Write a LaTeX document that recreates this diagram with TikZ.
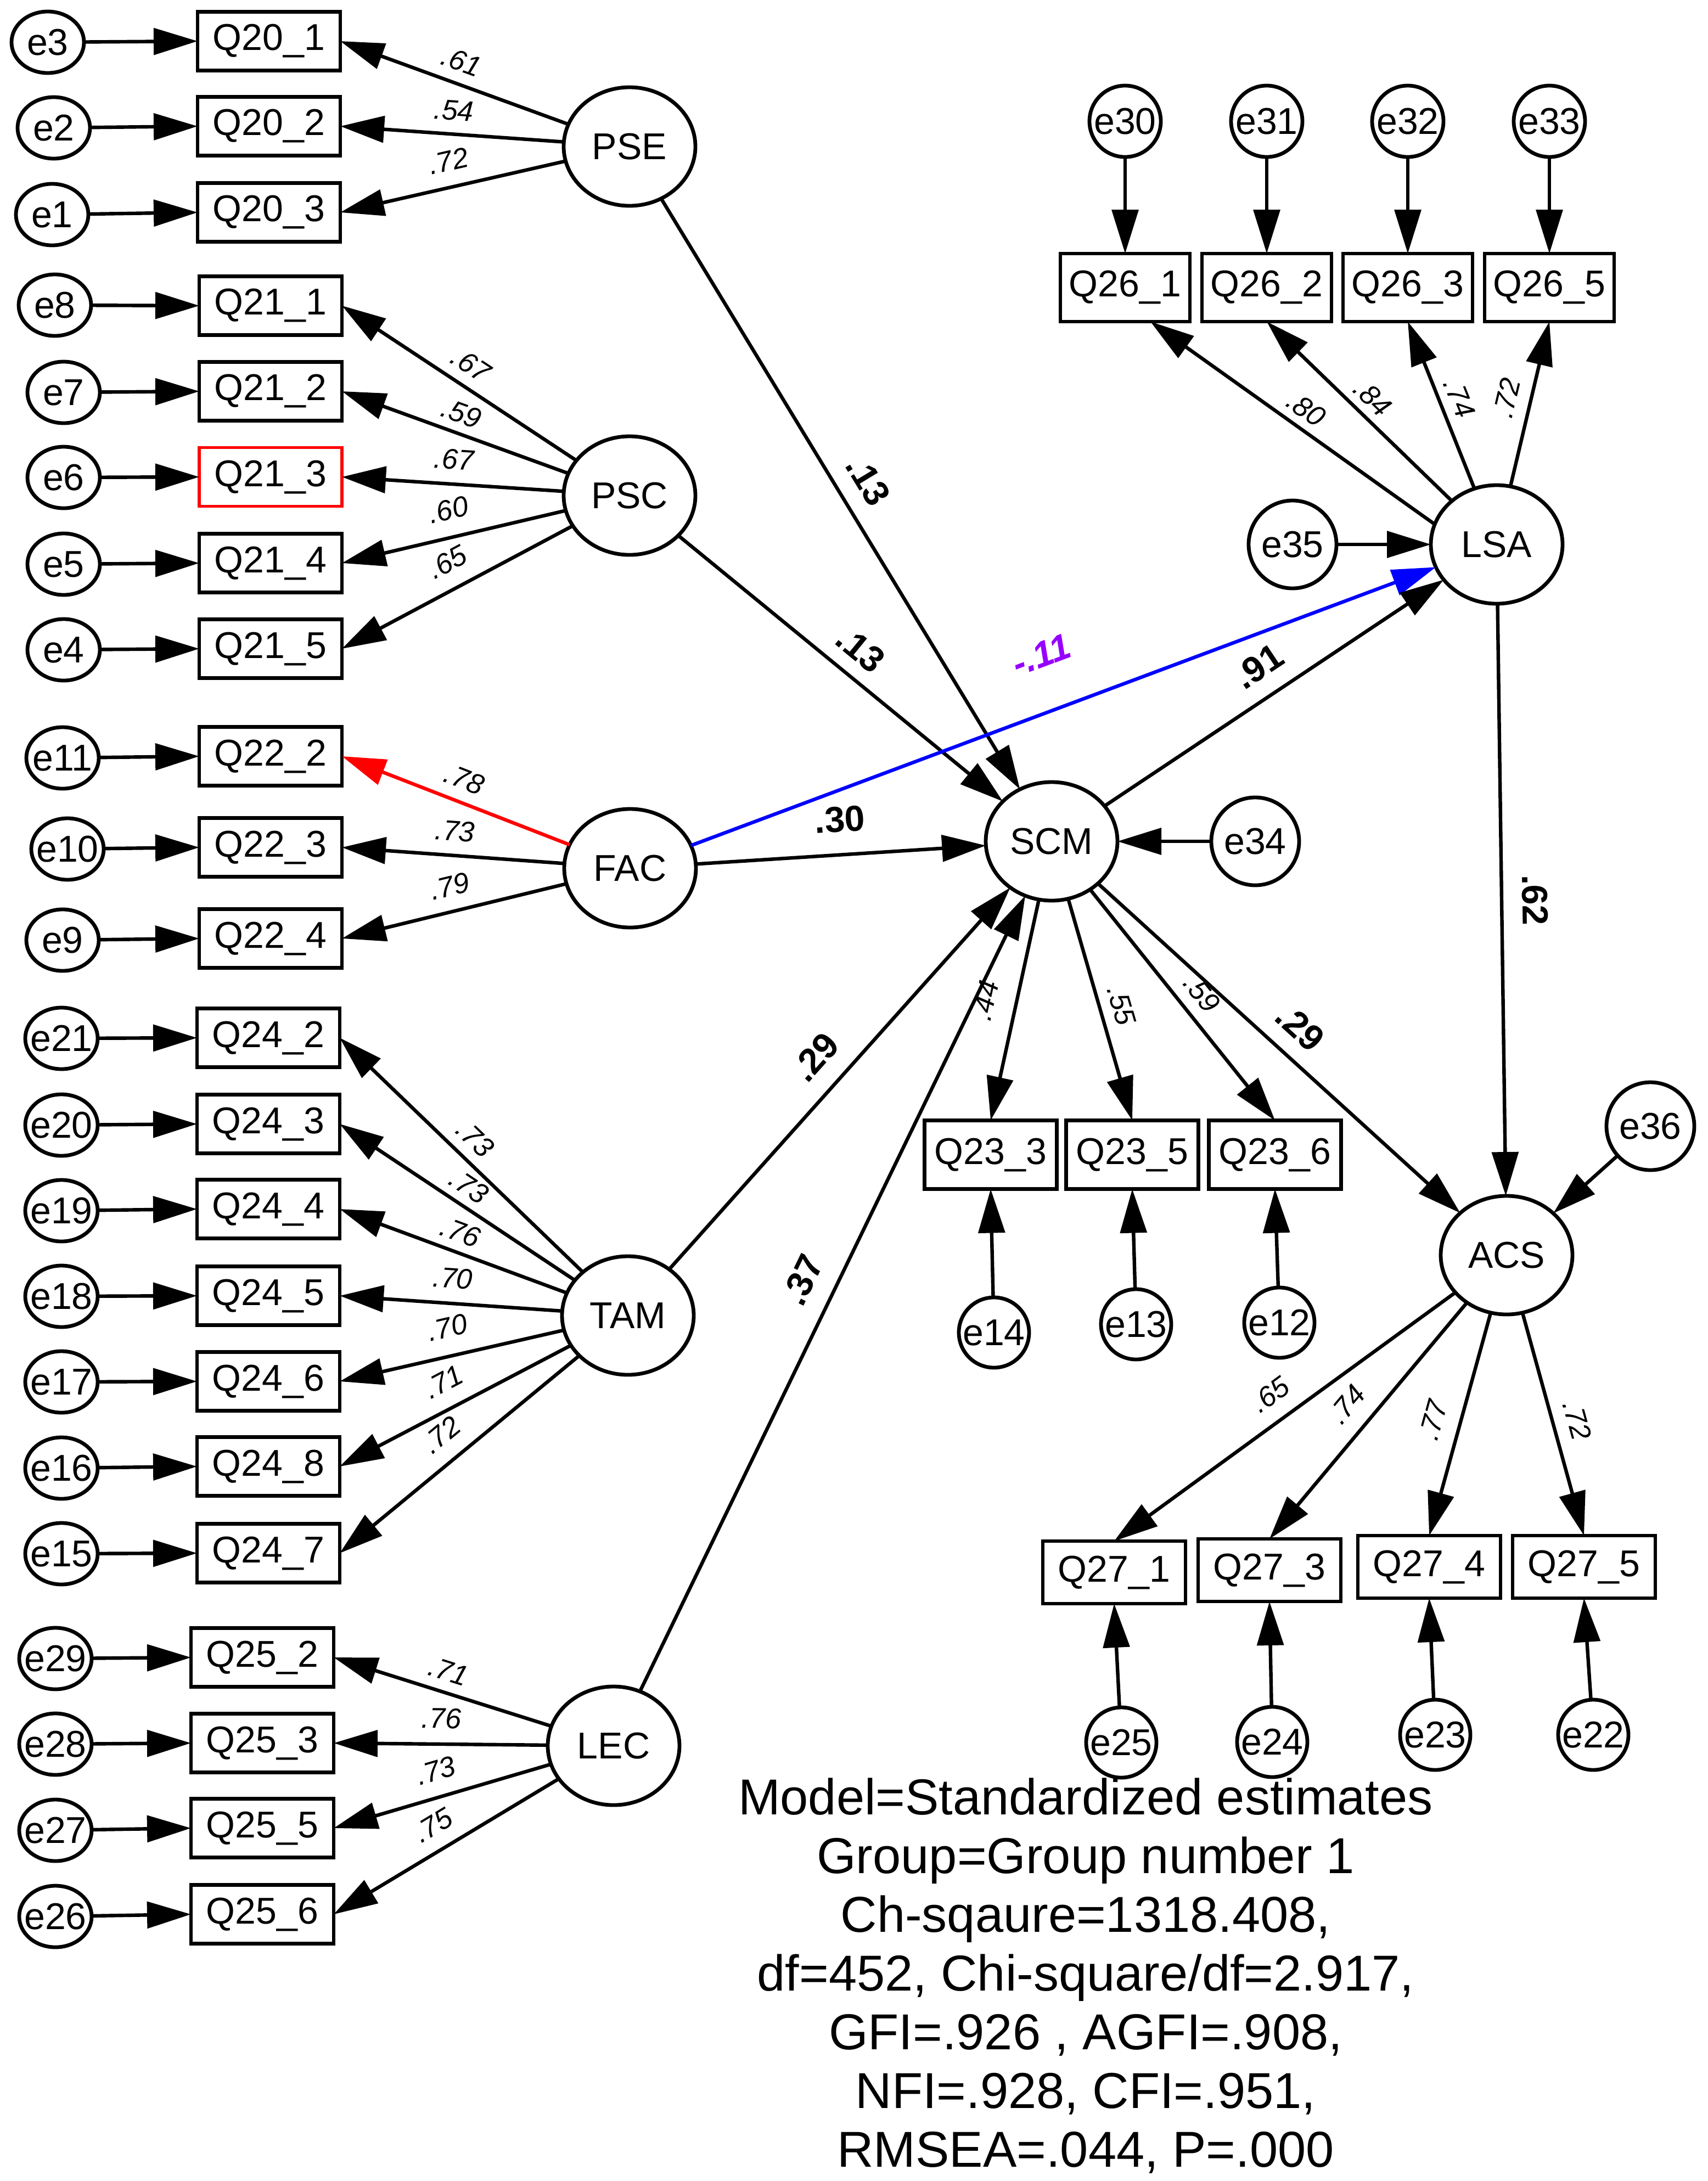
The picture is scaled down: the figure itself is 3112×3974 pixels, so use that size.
\documentclass[tikz,border=0pt]{standalone}
\usepackage{fontspec}
\setmainfont{Liberation Sans}
\usetikzlibrary{arrows.meta,shapes.geometric,calc}
\definecolor{purp}{RGB}{150,0,255}
\newcommand{\mbz}[1]{\makebox[0pt]{#1}}
\begin{document}
\begin{tikzpicture}[x=0.25pt,y=-0.25pt,
  every node/.style={inner sep=0pt, outer sep=0pt},
  txt/.style={font=\fontsize{17}{20}\selectfont},
  lat/.style={ellipse, draw, line width=1.7pt, minimum width=60pt, minimum height=54pt, txt},
  err/.style={ellipse, draw, line width=1.7pt, minimum width=33pt, minimum height=28pt, txt},
  errc/.style={circle, draw, line width=1.7pt, minimum size=32.5pt, txt},
  errb/.style={circle, draw, line width=1.7pt, minimum size=40pt, txt},
  obs/.style={rectangle, draw, line width=1.7pt, minimum width=65pt, minimum height=26.75pt, txt},
  obst/.style={rectangle, draw, line width=1.7pt, minimum width=59pt, minimum height=31pt, txt},
  obsm/.style={rectangle, draw, line width=1.7pt, minimum width=60.25pt, minimum height=31.25pt, txt},
  obsb/.style={rectangle, draw, line width=1.7pt, minimum width=65pt, minimum height=28.5pt, txt},
  arr/.style={-{Triangle[length=20pt,width=12pt]}, line width=1.6pt},
  ld/.style={font=\fontsize{13}{15}\selectfont\itshape},
  pth/.style={font=\fontsize{16.5}{19}\selectfont\bfseries},
  fit/.style={font=\fontsize{23}{27}\selectfont, anchor=base}
]
\useasboundingbox (0,0) rectangle (3112,3974);

% ---------- latent variables ----------
\node[lat] (PSE) at (1147,267) {\mbz{PSE}};
\node[lat] (PSC) at (1147,903) {\mbz{PSC}};
\node[lat] (FAC) at (1148,1582) {\mbz{FAC}};
\node[lat] (TAM) at (1144,2397) {\mbz{TAM}};
\node[lat] (LEC) at (1118,3181) {\mbz{LEC}};
\node[lat] (SCM) at (1916,1533) {\mbz{SCM}};
\node[lat] (LSA) at (2727,992) {\mbz{LSA}};
\node[lat] (ACS) at (2745,2287) {\mbz{ACS}};

% ---------- left observed ----------
\node[obs] (q201) at (490,75) {Q20\_1};
\node[obs] (q202) at (490,230) {Q20\_2};
\node[obs] (q203) at (490,387) {Q20\_3};
\node[obs] (q211) at (493,557) {Q21\_1};
\node[obs] (q212) at (493,713) {Q21\_2};
\node[obs, draw=red, line width=1.3pt] (q213) at (493,869) {Q21\_3};
\node[obs] (q214) at (493,1026) {Q21\_4};
\node[obs] (q215) at (493,1182) {Q21\_5};
\node[obs] (q222) at (493,1378) {Q22\_2};
\node[obs] (q223) at (493,1544) {Q22\_3};
\node[obs] (q224) at (493,1710) {Q22\_4};
\node[obs] (q242) at (489,1891) {Q24\_2};
\node[obs] (q243) at (489,2048) {Q24\_3};
\node[obs] (q244) at (489,2203) {Q24\_4};
\node[obs] (q245) at (489,2361) {Q24\_5};
\node[obs] (q246) at (489,2517) {Q24\_6};
\node[obs] (q248) at (489,2672) {Q24\_8};
\node[obs] (q247) at (489,2830) {Q24\_7};
\node[obs] (q252) at (478,3020) {Q25\_2};
\node[obs] (q253) at (478,3176) {Q25\_3};
\node[obs] (q255) at (478,3331) {Q25\_5};
\node[obs] (q256) at (478,3488) {Q25\_6};

% ---------- left errors ----------
\node[err] (e3) at (87,77) {\mbz{e3}};
\node[err] (e2) at (98,233) {\mbz{e2}};
\node[err] (e1) at (95,391) {\mbz{e1}};
\node[err] (e8) at (100,556) {\mbz{e8}};
\node[err] (e7) at (116,715) {\mbz{e7}};
\node[err] (e6) at (116,870) {\mbz{e6}};
\node[err] (e5) at (116,1028) {\mbz{e5}};
\node[err] (e4) at (116,1184) {\mbz{e4}};
\node[err] (e11) at (114,1381) {\mbz{e11}};
\node[err] (e10) at (123,1547) {\mbz{e10}};
\node[err] (e9) at (114,1713) {\mbz{e9}};
\node[err] (e21) at (112,1892) {\mbz{e21}};
\node[err] (e20) at (112,2050) {\mbz{e20}};
\node[err] (e19) at (112,2206) {\mbz{e19}};
\node[err] (e18) at (112,2362) {\mbz{e18}};
\node[err] (e17) at (112,2518) {\mbz{e17}};
\node[err] (e16) at (112,2675) {\mbz{e16}};
\node[err] (e15) at (112,2831) {\mbz{e15}};
\node[err] (e29) at (101,3022) {\mbz{e29}};
\node[err] (e28) at (101,3178) {\mbz{e28}};
\node[err] (e27) at (101,3335) {\mbz{e27}};
\node[err] (e26) at (101,3492) {\mbz{e26}};

% ---------- right side ----------
\node[obst] (q261) at (2050,524) {Q26\_1};
\node[obst] (q262) at (2308,524) {Q26\_2};
\node[obst] (q263) at (2565,524) {Q26\_3};
\node[obst] (q265) at (2823,524) {Q26\_5};
\node[errc] (e30) at (2050,221) {\mbz{e30}};
\node[errc] (e31) at (2308,221) {\mbz{e31}};
\node[errc] (e32) at (2565,221) {\mbz{e32}};
\node[errc] (e33) at (2823,221) {\mbz{e33}};
\node[errb] (e35) at (2355,992) {\mbz{e35}};
\node[errb] (e34) at (2287,1533) {\mbz{e34}};
\node[errb] (e36) at (3007,2052) {\mbz{e36}};

\node[obsm] (q233) at (1805,2104) {Q23\_3};
\node[obsm] (q235) at (2063,2104) {Q23\_5};
\node[obsm] (q236) at (2323,2104) {Q23\_6};
\node[errc, minimum size=32pt] (e14) at (1811,2428) {\mbz{e14}};
\node[errc, minimum size=32pt] (e13) at (2070,2413) {\mbz{e13}};
\node[errc, minimum size=32pt] (e12) at (2331,2410) {\mbz{e12}};

\node[obsb] (q271) at (2030,2865) {Q27\_1};
\node[obsb] (q273) at (2313,2861) {Q27\_3};
\node[obsb] (q274) at (2604,2855) {Q27\_4};
\node[obsb] (q275) at (2886,2855) {Q27\_5};
\node[errc, minimum size=32pt] (e25) at (2043,3175) {\mbz{e25}};
\node[errc, minimum size=32pt] (e24) at (2318,3174) {\mbz{e24}};
\node[errc, minimum size=32pt] (e23) at (2615,3161) {\mbz{e23}};
\node[errc, minimum size=32pt] (e22) at (2903,3161) {\mbz{e22}};

% ---------- error arrows (left) ----------
\foreach \e/\q in {e3/q201,e2/q202,e1/q203,e8/q211,e7/q212,e6/q213,e5/q214,e4/q215,
  e11/q222,e10/q223,e9/q224,e21/q242,e20/q243,e19/q244,e18/q245,e17/q246,e16/q248,e15/q247,
  e29/q252,e28/q253,e27/q255,e26/q256}
  \draw[arr] (\e) -- (\q.west);

% ---------- loadings (left) ----------
\foreach \l/\q in {PSE/q201,PSE/q202,PSE/q203,PSC/q211,PSC/q212,PSC/q213,PSC/q214,PSC/q215,
  FAC/q223,FAC/q224,TAM/q242,TAM/q243,TAM/q244,TAM/q245,TAM/q246,TAM/q248,TAM/q247,
  LEC/q252,LEC/q253,LEC/q255,LEC/q256}
  \draw[arr] (\l) -- (\q.east);
\draw[arr, red] (FAC) -- (q222.east);

% ---------- right measurement ----------
\draw[arr] (LSA.162) -- ($(q261.south)+(46,0)$);
\draw[arr] (LSA) -- (q262.south);
\draw[arr] (LSA) -- (q263.south);
\draw[arr] (LSA) -- (q265.south);
\foreach \e/\q in {e30/q261,e31/q262,e32/q263,e33/q265}
  \draw[arr] (\e) -- (\q.north);
\foreach \q in {q233,q235,q236} \draw[arr] (SCM) -- (\q.north);
\foreach \e/\q in {e14/q233,e13/q235,e12/q236} \draw[arr] (\e) -- (\q.south);
\foreach \q in {q271,q273,q274,q275} \draw[arr] (ACS) -- (\q.north);
\foreach \e/\q in {e25/q271,e24/q273,e23/q274,e22/q275} \draw[arr] (\e) -- (\q.south);

% ---------- structural ----------
\draw[arr] (PSE) -- (SCM);
\draw[arr] (PSC) -- (SCM);
\draw[arr] (FAC) -- (SCM);
\draw[arr] (TAM) -- (SCM);
\draw[arr] (LEC) -- (SCM);
\draw[arr, blue] (FAC) -- (LSA);
\draw[arr] (SCM) -- (LSA);
\draw[arr] (LSA) -- (ACS);
\draw[arr] (SCM) -- (ACS);
\draw[arr] (e35) -- (LSA);
\draw[arr] (e34) -- (SCM);
\draw[arr] (e36) -- (ACS);

% ---------- loading labels ----------
\node[ld, rotate=-20] (l1) at (841,112) {.61};
\node[ld, rotate=-4] (l2) at (827,201) {.54};
\node[ld, rotate=12.8] (l3) at (817,293) {.72};
\node[ld, rotate=-33.5] (l4) at (858,665) {.67};
\node[ld, rotate=-20] (l5) at (841,753) {.59};
\node[ld, rotate=-3.7] (l6) at (827,837) {.67};
\node[ld, rotate=13.2] (l7) at (817,929) {.60};
\node[ld, rotate=28.1] (l8) at (815,1024) {.65};
\node[ld, rotate=-21.3] (l9) at (846,1420) {.78};
\node[ld, rotate=-4.1] (l10) at (829,1514) {.73};
\node[ld, rotate=13.7] (l11) at (819,1615) {.79};
\node[ld, rotate=-44] (l12) at (866,2075) {.73};
\node[ld, rotate=-33.7] (l13) at (854,2162) {.73};
\node[ld, rotate=-20.3] (l14) at (839,2245) {.76};
\node[ld, rotate=-3.9] (l15) at (825,2329) {.70};
\node[ld, rotate=12.9] (l16) at (815,2419) {.70};
\node[ld, rotate=27.7] (l17) at (808,2518) {.71};
\node[ld, rotate=39.6] (l18) at (804,2614) {.72};
\node[ld, rotate=-17.6] (l19) at (817,3045) {.71};
\node[ld, rotate=-0.6] (l20) at (804,3131) {.76};
\node[ld, rotate=16.4] (l21) at (794,3226) {.73};
\node[ld, rotate=31.1] (l22) at (789,3326) {.75};
\node[ld, rotate=-35.3] (l23) at (2380,745) {.80};
\node[ld, rotate=-44.1] (l24) at (2501,725) {.84};
\node[ld, rotate=-68.2] (l25) at (2659,725) {.74};
\node[ld, rotate=76.7] (l26) at (2745,725) {.72};
\node[ld, rotate=77.7] (l27) at (1795,1823) {.44};
\node[ld, rotate=-73.9] (l28) at (2043,1832) {.55};
\node[ld, rotate=-51.4] (l29) at (2190,1810) {.59};
\node[ld, rotate=36.1] (l30) at (2314,2541) {.65};
\node[ld, rotate=50.1] (l31) at (2454,2559) {.74};
\node[ld, rotate=74.6] (l32) at (2611,2588) {.77};
\node[ld, rotate=-74.6] (l33) at (2874,2588) {.72};

% ---------- path labels ----------
\node[pth, rotate=-58.7] (p1) at (1582,876) {.13};
\node[pth, rotate=-39.3] (p2) at (1568,1183) {.13};
\node[pth, rotate=20.5, text=purp, font=\fontsize{16.5}{19}\selectfont\bfseries\itshape] (p3) at (1897,1193) {-.11};
\node[pth, rotate=33.7] (p4) at (2293,1214) {.91};
\node[pth, rotate=3.7] (p5) at (1530,1493) {.30};
\node[pth, rotate=48.2] (p6) at (1485,1926) {.29};
\node[pth, rotate=64.2] (p7) at (1462,2332) {.37};
\node[pth, rotate=-42.3] (p8) at (2369,1872) {.29};
\node[pth, rotate=-89.2] (p9) at (2797,1640) {.62};

% ---------- fit statistics ----------
\node[fit] (t1) at (1978,3306) {Model=Standardized estimates};
\node[fit] (t2) at (1978,3413) {Group=Group number 1};
\node[fit] (t3) at (1978,3520) {Ch-sqaure=1318.408,};
\node[fit] (t4) at (1978,3627) {df=452, Chi-square/df=2.917,};
\node[fit] (t5) at (1978,3734) {GFI=.926 , AGFI=.908,};
\node[fit] (t6) at (1978,3841) {NFI=.928, CFI=.951,};
\node[fit] (t7) at (1978,3948) {RMSEA=.044, P=.000};
\end{tikzpicture}
\end{document}
